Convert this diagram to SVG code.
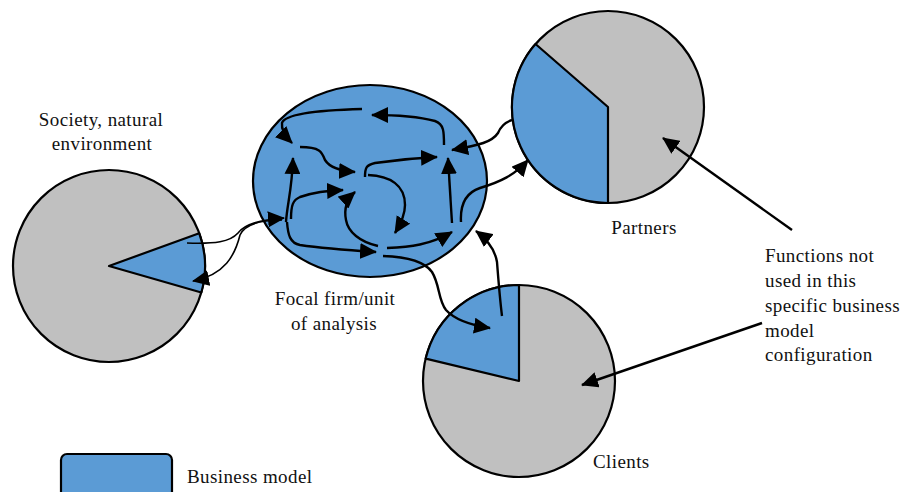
<svg xmlns="http://www.w3.org/2000/svg" width="910" height="492" viewBox="0 0 910 492">
<style>
.pie{fill:#C0C0C0;stroke:#000;stroke-width:2.2}
.bm{fill:#5B9BD5;stroke:#000;stroke-width:2.2;stroke-linejoin:round}
.lbl{font-size:19px;fill:#111;letter-spacing:0.4px}
.c{fill:none;stroke:#000;stroke-width:2.4;marker-end:url(#ah)}
.cn{fill:none;stroke:#000;stroke-width:1.6;marker-end:url(#ah)}
</style>
<defs>
<marker id="ah" markerUnits="userSpaceOnUse" markerWidth="18" markerHeight="16" refX="16" refY="8" orient="auto">
<path d="M0,0 L17,8 L0,16 z" fill="#000"/>
</marker>
</defs>
<rect width="910" height="492" fill="#fff"/>

<g id="society">
<circle class="pie" cx="109" cy="266" r="96"/>
<path class="bm" d="M109,266 L199.2,233.2 A96,96 0 0,1 201.3,292.5 Z"/>
<text class="lbl" font-family="'Liberation Serif','DejaVu Serif','Times New Roman',serif" x="101" y="126" text-anchor="middle">Society, natural</text>
<text class="lbl" font-family="'Liberation Serif','DejaVu Serif','Times New Roman',serif" x="102" y="150" text-anchor="middle">environment</text>
</g>

<g id="partners">
<circle class="pie" cx="608" cy="107" r="96"/>
<path class="bm" d="M608,107 L608,203 A96,96 0 0,1 535.5,44 Z"/>
<text class="lbl" font-family="'Liberation Serif','DejaVu Serif','Times New Roman',serif" x="644" y="234" text-anchor="middle">Partners</text>
</g>

<g id="clients">
<circle class="pie" cx="519" cy="381" r="96"/>
<path class="bm" d="M519,381 L425.7,358.6 A96,96 0 0,1 519,285 Z"/>
<text class="lbl" font-family="'Liberation Serif','DejaVu Serif','Times New Roman',serif" x="593" y="468">Clients</text>
</g>

<g id="focal">
<ellipse class="bm" cx="370" cy="181" rx="117" ry="96"/>
<text class="lbl" font-family="'Liberation Serif','DejaVu Serif','Times New Roman',serif" x="335" y="305" text-anchor="middle">Focal firm/unit</text>
<text class="lbl" font-family="'Liberation Serif','DejaVu Serif','Times New Roman',serif" x="334" y="330" text-anchor="middle">of analysis</text>
</g>

<g id="annotation">
<text class="lbl" font-family="'Liberation Serif','DejaVu Serif','Times New Roman',serif" x="765" y="262">Functions not</text>
<text class="lbl" font-family="'Liberation Serif','DejaVu Serif','Times New Roman',serif" x="765" y="287">used in this</text>
<text class="lbl" font-family="'Liberation Serif','DejaVu Serif','Times New Roman',serif" x="765" y="312">specific business</text>
<text class="lbl" font-family="'Liberation Serif','DejaVu Serif','Times New Roman',serif" x="765" y="337">model</text>
<text class="lbl" font-family="'Liberation Serif','DejaVu Serif','Times New Roman',serif" x="765" y="361">configuration</text>
</g>

<g id="legend">
<rect class="bm" x="61" y="454" width="111" height="46" rx="6"/>
<text class="lbl" font-family="'Liberation Serif','DejaVu Serif','Times New Roman',serif" x="187" y="483">Business model</text>
</g>

<g id="connectors">
<path class="c" d="M362,109 C325,110 285,113 282,123 C281,130 285,136 292,143"/>
<path class="c" d="M444,145 C444,132 444,124 435,121 C420,117 400,115 372,115"/>
<path class="c" d="M300,147 C320,147 322,152 325,160 C330,168 340,171 355,172"/>
<path class="c" d="M286,222 C287,205 292,190 293,158"/>
<path class="c" d="M291,219 C291,205 293,200 300,197 C315,192 325,191 343,190"/>
<path class="c" d="M378,246 C360,242 348,232 346,220 C344,210 346,200 355,192"/>
<path class="c" d="M287,222 C288,235 290,243 300,245 C320,248 345,250 376,252"/>
<path class="cn" d="M187,243 C215,244 230,242 238,233 C245,224 260,220 284,218"/>
<path class="cn" d="M282,220 C262,220 245,224 240,235 C235,255 225,275 193,281"/>
<path class="c" d="M365,177 C365,168 366,165 375,163 C395,160 415,158 437,157"/>
<path class="c" d="M368,175 C390,176 405,185 405,205 C405,215 400,225 395,233"/>
<path class="c" d="M452,223 L448,158"/>
<path class="c" d="M387,248 C410,247 430,245 452,232"/>
<path class="c" d="M512,120 C505,122 500,128 498,133 C492,142 480,145 452,150"/>
<path class="c" d="M461,222 C460,205 465,193 480,188 C500,182 515,175 528,160"/>
<path class="c" d="M502,316 C500,300 498,275 497,262 C495,250 488,240 476,231"/>
<path class="c" d="M383,256 C410,257 425,262 432,272 C440,285 438,300 446,310 C455,320 470,325 490,328"/>
<path class="c" d="M792,230 L663,138"/>
<path class="c" d="M762,323 L582,385"/>
</g>
</svg>
